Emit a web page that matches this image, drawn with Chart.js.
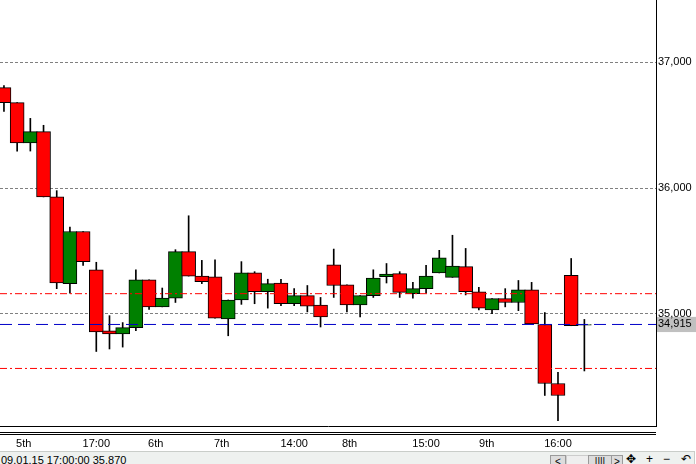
<!DOCTYPE html>
<html lang="en">
<head>
<meta charset="UTF-8">
<title>Candles 5th-9th</title>
<script src="https://cdn.jsdelivr.net/npm/chart.js"></script>
<style>
  body { margin: 0; background: #fff; font-family: "Liberation Sans", Arial, sans-serif; }
  .wrap { position: relative; width: 696px; height: 451px; }
  .status { position: relative; width: 693px; height: 12px; background: #eef1ef; border-top: 1px solid #c9cdc9; border-right: 1px solid #c9cdc9; font-size: 11px; line-height: 13px; padding-top: 2px; padding-left: 1px; overflow: hidden; color: #000; }
  .btn { position: absolute; top: 3px; height: 12px; border: 1px solid #9a9a9a; background: #dcdcdc; font-size: 10px; line-height: 11px; text-align: center; }
  .ico { position: absolute; top: 1px; font-size: 12px; }
</style>
</head>
<body>

<div class="wrap"><canvas id="chart" width="696" height="451"></canvas></div>
<div class="status">09.01.15 17:00:00 35.870
  <span class="btn" style="left:550px;width:14px;">&lt;</span>
  <span class="btn" style="left:566px;width:21px;background:#eee;border-color:#ccc;"></span>
  <span class="btn" style="left:588px;width:22px;">||||</span>
  <span class="btn" style="left:611px;width:10px;">&gt;</span>
  <span class="ico" style="left:626px;">✥</span>
  <span class="ico" style="left:646px;">+</span>
  <span class="ico" style="left:663px;">−</span>
  <span class="ico" style="left:681px;">↶</span>
</div>

<script>
// candle values, oldest first
const opens  = [36800, 36680, 36360, 36450, 35930, 35240, 35655, 35350, 34865, 34840, 34890, 35270, 35055, 35125, 35495,
                35300, 35295, 34960, 35110, 35325, 35175, 35245, 35080, 35145, 35070, 35390, 35230, 35070, 35145, 35295,
                35320, 35160, 35200, 35325, 35290, 35375, 35175, 35030, 35120, 35090, 35190, 34915, 34445, 35305, 34910];
const closes = [36680, 36360, 36450, 35930, 35245, 35655, 35415, 34855, 34840, 34890, 35270, 35055, 35125, 35495, 35300,
                35255, 34965, 35110, 35325, 35175, 35240, 35080, 35145, 35060, 34975, 35225, 35070, 35145, 35285, 35315,
                35170, 35200, 35300, 35445, 35380, 35175, 35045, 35120, 35090, 35190, 34920, 34445, 34350, 34905, 34915];
const highs  = [36815, 36680, 36555, 36500, 35980, 35690, 35655, 35410, 34985, 34930, 35350, 35270, 35205, 35510, 35780,
                35425, 35430, 35110, 35415, 35335, 35275, 35275, 35200, 35225, 35130, 35515, 35230, 35145, 35350, 35400,
                35335, 35250, 35385, 35505, 35625, 35520, 35210, 35120, 35200, 35265, 35250, 35010, 34535, 35440, 34955];
const lows   = [36610, 36295, 36295, 35930, 35200, 35165, 35385, 34700, 34720, 34735, 34865, 35035, 35055, 35090, 35300,
                35240, 34965, 34825, 35075, 35080, 35045, 35065, 35065, 35015, 34895, 35130, 35015, 34975, 35130, 35245,
                35130, 35125, 35165, 35325, 35290, 35150, 35030, 35000, 35055, 35025, 34920, 34350, 34150, 34905, 34545];

// x axis labels and where they sit (in candle index units)
const xTickLabels    = ['5th', '17:00', '6th', '7th', '14:00', '8th', '15:00', '9th', '16:00'];
const xTickPositions = [1.5, 7, 11.5, 16.5, 22, 26.2, 32, 36.6, 42];

// price axis
const yTickValues = [35000, 36000, 37000];
const lastPrice  = 34915;
const resistance = 35160;
const support    = 34565;

const X_MIN = -0.3, X_MAX = 49.43;
const Y_MIN = 34107, Y_MAX = 37497;

const FONT = { family: '"Liberation Sans", Arial, sans-serif', size: 11 };

function levelLine(v) {
  return [{ x: X_MIN, y: v }, { x: X_MAX, y: v }];
}

// the double rule under the plot
const underLines = {
  id: 'underLines',
  afterDraw(chart) {
    const { ctx, chartArea } = chart;
    ctx.save();
    ctx.strokeStyle = '#000';
    ctx.lineWidth = 1;
    [6.5, 8.5].forEach(d => {
      ctx.beginPath();
      ctx.moveTo(0, chartArea.bottom + d);
      ctx.lineTo(chartArea.right, chartArea.bottom + d);
      ctx.stroke();
    });
    ctx.restore();
  }
};

new Chart(document.getElementById('chart'), {
  type: 'bar',
  data: {
    datasets: [
      { type: 'line', data: levelLine(resistance), borderColor: '#ff0000', borderWidth: 1,
        borderDash: [7, 3, 2, 3], pointRadius: 0, order: 0 },
      { type: 'line', data: levelLine(support), borderColor: '#ff0000', borderWidth: 1,
        borderDash: [7, 3, 2, 3], pointRadius: 0, order: 0 },
      { type: 'line', data: levelLine(lastPrice), borderColor: '#0000c8', borderWidth: 1,
        borderDash: [12, 6], pointRadius: 0, order: 0 },
      { label: 'body', data: opens.map((o, i) => ({ x: i, y: [o, closes[i]] })),
        backgroundColor: opens.map((o, i) => closes[i] >= o ? '#008000' : '#ff0000'),
        borderColor: '#000', borderWidth: 1, borderSkipped: false,
        barThickness: 14, grouped: false, order: 1 },
      { label: 'wick', data: lows.map((l, i) => ({ x: i, y: [l, highs[i]] })),
        backgroundColor: '#000', borderWidth: 0, barThickness: 1, grouped: false, order: 2 }
    ]
  },
  options: {
    responsive: false,
    animation: false,
    layout: { padding: 0 },
    plugins: { legend: { display: false }, tooltip: { enabled: false } },
    scales: {
      x: {
        type: 'linear', min: X_MIN, max: X_MAX, offset: false,
        grid: { display: false, offset: false },
        border: { display: true, color: '#000', width: 1 },
        ticks: {
          font: FONT, color: '#000', padding: 3, autoSkip: false, maxRotation: 0,
          callback: (v, i) => xTickLabels[i]
        },
        afterBuildTicks: s => { s.ticks = xTickPositions.map(v => ({ value: v })); },
        afterFit: s => { s.height = 25; s.paddingLeft = 0; s.paddingRight = 0; }
      },
      y: {
        position: 'right', min: Y_MIN, max: Y_MAX,
        grid: {
          drawTicks: false,
          color: c => (c.tick && c.tick.value === lastPrice) ? 'rgba(0,0,0,0)' : '#808080'
        },
        border: { display: true, color: '#000', width: 1, dash: [3, 2] },
        ticks: {
          font: FONT, color: '#000', padding: 2, autoSkip: false,
          callback: v => v.toLocaleString('en-US'),
          showLabelBackdrop: c => c.tick && c.tick.value === lastPrice,
          backdropColor: '#c0c0c0',
          backdropPadding: { top: 1, bottom: 1, left: 1, right: 12 }
        },
        afterBuildTicks: s => { s.ticks = [lastPrice].concat(yTickValues).map(v => ({ value: v })); },
        afterFit: s => { s.width = 40; s.paddingTop = 0; s.paddingBottom = 0; }
      }
    }
  },
  plugins: [underLines]
});
</script>

</body>
</html>
